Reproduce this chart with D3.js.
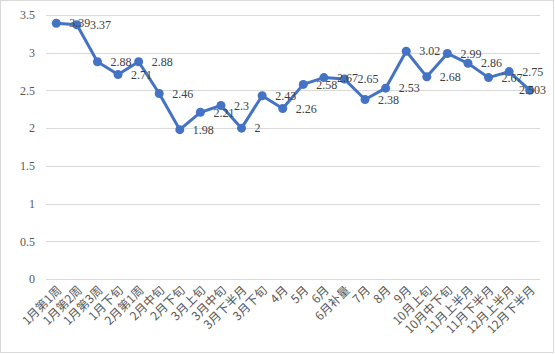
<!DOCTYPE html>
<html>
<head>
<meta charset="utf-8">
<script src="https://cdn.jsdelivr.net/npm/d3@7"></script>
<style>
  body { margin: 0; background: #fff; }
  svg { display: block; }
</style>
</head>
<body>
<div id="chart"></div>
<script>
// 数据
const categories = ["1月第1周", "1月第2周", "1月第3周", "1月下旬", "2月第1周", "2月中旬", "2月下旬",
  "3月上旬", "3月中旬", "3月下半月", "3月下旬", "4月", "5月", "6月", "6月补量", "7月", "8月", "9月",
  "10月上旬", "10月中下旬", "11月上半月", "11月下半月", "12月上半月", "12月下半月"];
const values = [3.39, 3.37, 2.88, 2.71, 2.88, 2.46, 1.98, 2.21, 2.3, 2, 2.43, 2.26, 2.58, 2.67, 2.65,
  2.38, 2.53, 3.02, 2.68, 2.99, 2.86, 2.67, 2.75, 2.503];
const yTicks = [0, 0.5, 1, 1.5, 2, 2.5, 3, 3.5];

const W = 555, H = 354;
const plot = { left: 46, right: 540, top: 15, bottom: 279 };

const svg = d3.select("#chart").append("svg")
  .attr("width", W).attr("height", H);

// 外框
svg.append("rect")
  .attr("x", 0.5).attr("y", 0.5)
  .attr("width", W - 2).attr("height", H - 2)
  .attr("fill", "#fff").attr("stroke", "#d9d9d9");

const x = d3.scaleBand().domain(categories).range([plot.left, plot.right]);
const y = d3.scaleLinear().domain([0, 3.5]).range([plot.bottom, plot.top]);

// 网格线
svg.append("g").selectAll("line")
  .data(yTicks).enter().append("line")
  .attr("x1", plot.left).attr("x2", plot.right)
  .attr("y1", d => Math.round(y(d)) + 0.5).attr("y2", d => Math.round(y(d)) + 0.5)
  .attr("stroke", "#d9d9d9").attr("stroke-width", 1);

// Y轴
const yAxis = svg.append("g")
  .attr("transform", `translate(${plot.left},0)`)
  .call(d3.axisLeft(y).tickValues(yTicks).tickSize(0).tickPadding(11).tickFormat(d => d));
yAxis.select(".domain").remove();
yAxis.selectAll("text")
  .style("font-family", "'Liberation Serif', 'DejaVu Serif', serif")
  .style("font-size", "12px")
  .style("fill", "#595959");

// X轴标签
const cx = d => x(d) + x.bandwidth() / 2;
svg.append("g").selectAll("text")
  .data(categories).enter().append("text")
  .attr("transform", d => `translate(${cx(d) + 3},${plot.bottom + 9}) rotate(-45)`)
  .attr("text-anchor", "end")
  .attr("dy", "0.35em")
  .style("font-family", "'Noto Sans CJK SC', sans-serif")
  .style("font-size", "12px")
  .style("fill", "#595959")
  .text(d => d);

// 折线
const data = categories.map((c, i) => ({ c, v: values[i] }));
const line = d3.line().x(d => cx(d.c)).y(d => y(d.v));

svg.append("path")
  .datum(data)
  .attr("d", line)
  .attr("fill", "none")
  .attr("stroke", "#4472c4")
  .attr("stroke-width", 3)
  .attr("stroke-linejoin", "round");

svg.append("g").selectAll("circle")
  .data(data).enter().append("circle")
  .attr("cx", d => cx(d.c))
  .attr("cy", d => y(d.v))
  .attr("r", 4.5)
  .attr("fill", "#4472c4");

// 数据标签
svg.append("g").selectAll("text")
  .data(data).enter().append("text")
  .attr("x", d => Math.min(cx(d.c) + 13, 547 - String(d.v).length * 5.6))
  .attr("y", d => y(d.v))
  .attr("dy", "0.35em")
  .style("font-family", "'Liberation Serif', 'DejaVu Serif', serif")
  .style("font-size", "12px")
  .style("fill", "#404040")
  .text(d => d.v);
</script>
</body>
</html>
